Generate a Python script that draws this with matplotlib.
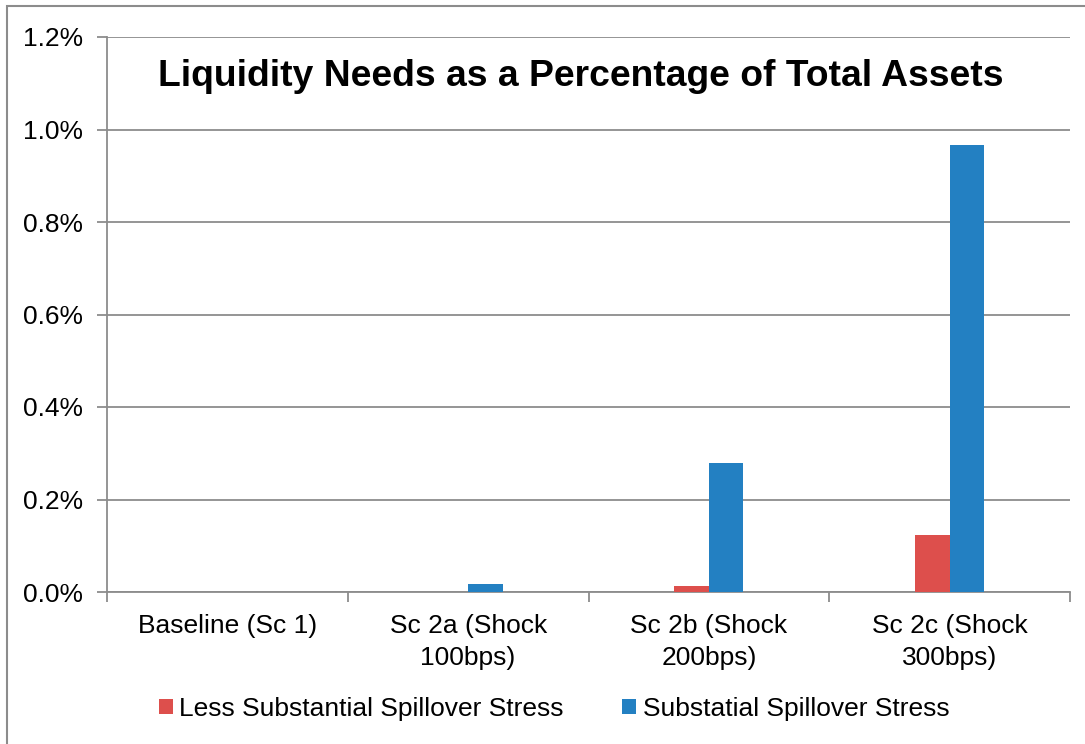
import matplotlib.pyplot as plt
import matplotlib.patches as mpatches
from matplotlib.ticker import FixedLocator, FuncFormatter
import numpy as np

plt.rcParams['font.family'] = ['Liberation Sans', 'DejaVu Sans']

# --- Data (liquidity needs, % of total assets) ---
categories = ["Baseline (Sc 1)", "Sc 2a (Shock\n100bps)", "Sc 2b (Shock\n200bps)", "Sc 2c (Shock\n300bps)"]
less_substantial = [0.0, 0.0, 0.014, 0.124]
substantial = [0.0, 0.018, 0.278, 0.967]
series_names = ["Less Substantial Spillover Stress", "Substatial Spillover Stress"]

RED = "#DD4F4C"
BLUE = "#2380C2"
GRID = "#8C8C8C"
FS = 19

fig = plt.figure(figsize=(10.85, 7.44), dpi=100)
ax = fig.add_axes([107 / 1085, 1 - 592 / 744, (1070 - 107) / 1085, (592 - 37) / 744])

x = np.arange(len(categories))
width = 0.143
ax.bar(x - width / 2, less_substantial, width, color=RED, label=series_names[0], zorder=3)
ax.bar(x + width / 2, substantial, width, color=BLUE, label=series_names[1], zorder=3)

ax.set_xlim(-0.5, len(categories) - 0.5)
ax.set_ylim(0, 1.2)
ax.set_yticks(np.arange(0, 1.21, 0.2))
ax.yaxis.set_major_formatter(FuncFormatter(lambda v, _: f"{v:.1f}%"))
ax.yaxis.grid(True, color=GRID, linewidth=1.3, zorder=0)

# category labels at centres, tick marks at the boundaries
ax.set_xticks(x)
ax.set_xticklabels(categories, fontsize=FS, linespacing=1.4)
ax.xaxis.set_minor_locator(FixedLocator(np.arange(-0.5, len(categories), 1.0)))
ax.tick_params(axis='x', which='major', length=0, pad=16)
ax.tick_params(axis='x', which='minor', length=7, width=1.3, color=GRID)
ax.tick_params(axis='y', length=7, width=1.3, color=GRID, labelsize=FS, pad=10)

for side in ['top', 'right']:
    ax.spines[side].set_visible(False)
for side in ['left', 'bottom']:
    ax.spines[side].set_color(GRID)
    ax.spines[side].set_linewidth(1.3)

ax.text(581 / 1085, 1 - 76 / 744, "Liquidity Needs as a Percentage of Total Assets",
        transform=fig.transFigure, ha='center', va='center',
        fontsize=26.8, fontweight='bold')

fig.legend(loc='center', bbox_to_anchor=(554 / 1085, 1 - 709 / 744), ncol=2,
           frameon=False, fontsize=FS, handlelength=0.53, handleheight=0.53,
           handletextpad=0.25, columnspacing=2.2)

# chart area border
fig.patches.append(mpatches.Rectangle((7 / 1085, -0.1), 1.2, 1.1 - 6 / 744,
                                      transform=fig.transFigure, fill=False,
                                      edgecolor=GRID, linewidth=1.5, zorder=0))

fig.savefig("out.png", dpi=100)
